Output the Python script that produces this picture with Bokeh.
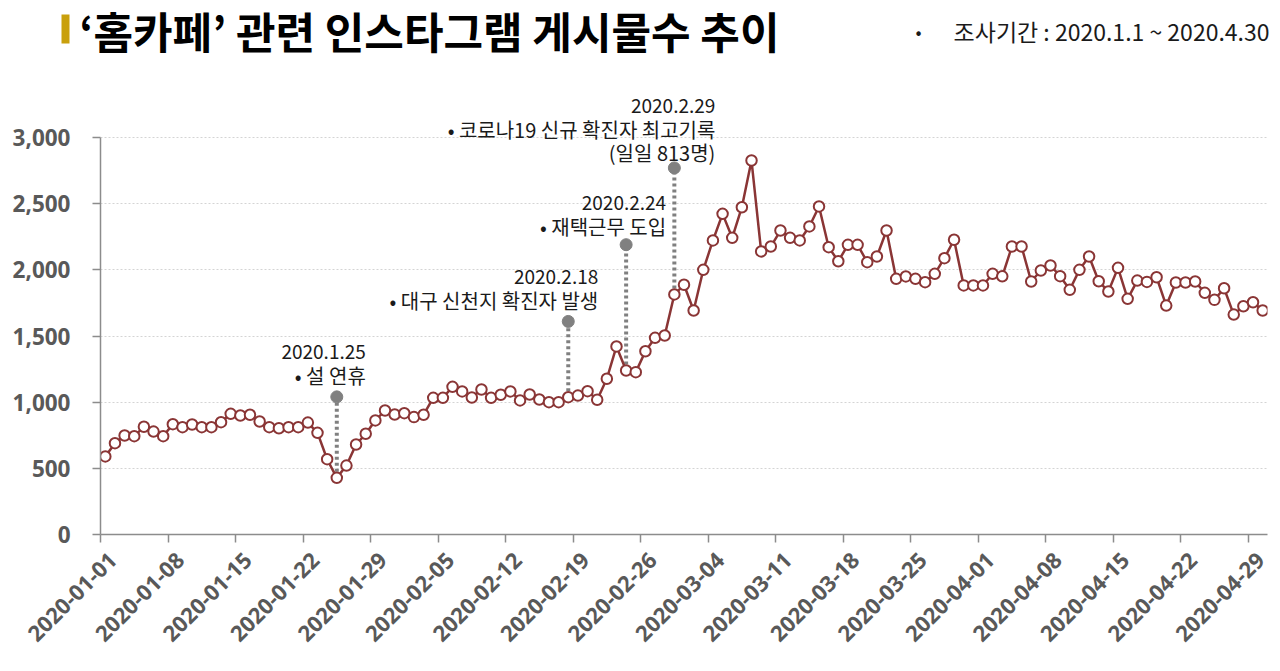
import pandas as pd
from bokeh.plotting import figure
from bokeh.layouts import column
from bokeh.models import (ColumnDataSource, Label, DatetimeTickFormatter,
                          FixedTicker, NumeralTickFormatter, Range1d)
from bokeh.embed import file_html
from bokeh.resources import INLINE

# ---------------- data ----------------
start_date = "2020-01-01"
end_date = "2020-05-01"
posts = [
    # January
    590, 690, 748, 743, 814, 778, 743, 834, 811, 831,
    811, 811, 849, 912, 899, 905, 854, 811, 803, 811,
    811, 846, 768, 569, 428, 521, 680, 761, 862, 937, 907,
    # February
    917, 887, 905, 1033, 1033, 1116, 1081, 1035, 1096, 1033,
    1056, 1081, 1013, 1058, 1020, 1000, 1000, 1038, 1050, 1083,
    1018, 1177, 1421, 1239, 1227, 1385, 1486, 1504, 1814,
    # March
    1887, 1693, 2000, 2222, 2423, 2242, 2473, 2826, 2139, 2176,
    2297, 2242, 2222, 2328, 2479, 2171, 2065, 2189, 2189, 2058,
    2101, 2297, 1932, 1950, 1932, 1907, 1970, 2088, 2227, 1882, 1882,
    # April
    1882, 1970, 1951, 2176, 2176, 1912, 1995, 2033, 1952, 1849,
    2000, 2101, 1914, 1836, 2015, 1781, 1919, 1909, 1944, 1730,
    1904, 1904, 1912, 1826, 1773, 1861, 1662, 1725, 1755, 1693,
]
x_tick_dates = ["2020-01-01", "2020-01-08", "2020-01-15", "2020-01-22", "2020-01-29",
                "2020-02-05", "2020-02-12", "2020-02-19", "2020-02-26", "2020-03-04",
                "2020-03-11", "2020-03-18", "2020-03-25", "2020-04-01", "2020-04-08",
                "2020-04-15", "2020-04-22", "2020-04-29"]
y_ticks = [0, 500, 1000, 1500, 2000, 2500, 3000]

ann_dates = ["2020-01-25", "2020-02-18", "2020-02-24", "2020-02-29"]
ann_marker_values = [1040, 1610, 2190, 2770]
ann_texts = [
    ["2020.1.25", "• 설 연휴"],
    ["2020.2.18", "• 대구 신천지 확진자 발생"],
    ["2020.2.24", "• 재택근무 도입"],
    ["2020.2.29", "• 코로나19 신규 확진자 최고기록", "(일일 813명)"],
]
title_text = "‘홈카페’ 관련 인스타그램 게시물수 추이"
period_text = "조사기간 : 2020.1.1 ~ 2020.4.30"

# ---------------- helpers ----------------
def ms(d):
    return pd.Timestamp(d).value / 1e6

DAY = 24 * 3600 * 1000
half_day = DAY // 2
dates = pd.date_range(start_date, periods=len(posts), freq="D")
src = ColumnDataSource(dict(x=[ms(d) + half_day for d in dates], y=posts))
date_index = {d.strftime("%Y-%m-%d"): i for i, d in enumerate(dates)}
ann_x = [ms(d) + half_day for d in ann_dates]
ann_point_values = [posts[date_index[d]] for d in ann_dates]

TOTAL_W = 1272
HEAD_H = 62
MAIN_H = 601
FRAME_LEFT = 100
FRAME_RIGHT_BORDER = 5
FRAME_BOTTOM_BORDER = 129
PX_PER_3000 = 397  # pixel height of the 0..3000 band

# ---------------- header ----------------
head = figure(width=TOTAL_W, height=HEAD_H, output_backend="svg", toolbar_location=None,
              x_range=Range1d(0, TOTAL_W), y_range=Range1d(0, HEAD_H),
              x_axis_type=None, y_axis_type=None,
              min_border_left=0, min_border_right=0, min_border_top=0, min_border_bottom=0)
if "frame_align" in head.properties():
    head.frame_align = False
head.outline_line_color = None
head.xgrid.grid_line_color = None
head.ygrid.grid_line_color = None
head.quad(left=[61], right=[69], top=[HEAD_H - 14], bottom=[HEAD_H - 43],
          fill_color="#c9a00c", line_color=None)
head.add_layout(Label(x=79, y=HEAD_H - 29, text=title_text,
                      text_align="left", text_baseline="middle",
                      text_font="Noto Sans CJK KR", text_font_style="bold",
                      text_font_size="43px", text_color="#000000"))
head.add_layout(Label(x=918, y=HEAD_H - 30, text="•",
                      text_align="center", text_baseline="middle",
                      text_font="Noto Sans CJK KR", text_font_size="18px", text_color="#1a1a1a"))
head.add_layout(Label(x=1269, y=HEAD_H - 30, text=period_text,
                      text_align="right", text_baseline="middle",
                      text_font="Noto Sans CJK KR", text_font_size="23px", text_color="#1a1a1a"))

# ---------------- main chart ----------------
frame_h = MAIN_H - FRAME_BOTTOM_BORDER
y_top = 3000 * frame_h / PX_PER_3000
p = figure(width=TOTAL_W, height=MAIN_H, output_backend="svg", toolbar_location=None,
           x_range=Range1d(ms(start_date), ms(end_date)), y_range=Range1d(0, y_top),
           min_border_left=FRAME_LEFT, min_border_right=FRAME_RIGHT_BORDER,
           min_border_top=0, min_border_bottom=FRAME_BOTTOM_BORDER)
if "frame_align" in p.properties():
    p.frame_align = False
p.outline_line_color = None

axis_color = "#8c8c8c"
label_color = "#595959"
label_font = "Open Sans"

# x axis: tick marks (as minor ticks) at week starts; labels anchored slightly
# to the right of each tick, as in the reference
label_shift = int(1.3 * DAY)
tick_pos = [ms(d) for d in x_tick_dates]
label_ticks = [t + label_shift for t in tick_pos]
xa = p.xaxis[0]
xa.ticker = FixedTicker(ticks=label_ticks, minor_ticks=tick_pos)
xa.formatter = DatetimeTickFormatter(days="%Y-%m-%d", months="%Y-%m-%d", years="%Y-%m-%d")
xa.major_label_overrides = {t: d for t, d in zip(label_ticks, x_tick_dates)}
xa.major_label_orientation = 0.785398
xa.major_label_standoff = 14
xa.major_tick_line_color = None
xa.major_tick_out = 0
xa.major_tick_in = 0
xa.minor_tick_line_color = axis_color
xa.minor_tick_line_width = 1.5
xa.minor_tick_out = 8
xa.minor_tick_in = 0
xa.axis_line_color = axis_color
xa.axis_line_width = 1.5
xa.major_label_text_color = label_color
xa.major_label_text_font = label_font
xa.major_label_text_font_style = "bold"
xa.major_label_text_font_size = "22px"

ya = p.yaxis[0]
ya.ticker = FixedTicker(ticks=y_ticks)
ya.formatter = NumeralTickFormatter(format="0,0")
ya.bounds = (y_ticks[0], y_ticks[-1])
ya.axis_line_color = axis_color
ya.axis_line_width = 1.5
ya.major_tick_line_color = axis_color
ya.major_tick_line_width = 1.5
ya.major_tick_out = 8
ya.major_tick_in = 0
ya.minor_tick_line_color = None
ya.major_label_text_color = label_color
ya.major_label_text_font = label_font
ya.major_label_text_font_style = "bold"
ya.major_label_text_font_size = "22.5px"
ya.major_label_standoff = 22

p.xgrid.grid_line_color = None
p.ygrid.ticker = FixedTicker(ticks=y_ticks[1:])
p.ygrid.grid_line_color = "#d4d4d4"
p.ygrid.grid_line_dash = "2 2"
p.ygrid.grid_line_width = 1

# annotation dotted stems and markers
p.segment(x0=ann_x, y0=ann_point_values, x1=ann_x, y1=ann_marker_values,
          line_color="#808080", line_width=4, line_dash="3 3")
p.scatter(x=ann_x, y=ann_marker_values, size=12, fill_color="#808080", line_color="#808080")

# series
line_color = "#8a3535"
p.line("x", "y", source=src, line_color=line_color, line_width=2.5)
p.scatter("x", "y", source=src, size=10.5, fill_color="white", line_color=line_color, line_width=2)

# annotation texts
x_offsets = [29, 30, 40, 41]
first_line_up = [45, 44, 42, 62]
line_gap = 23.5
for xv, yv, lines, xo, up in zip(ann_x, ann_marker_values, ann_texts, x_offsets, first_line_up):
    for k, t in enumerate(lines):
        p.add_layout(Label(x=xv, y=yv, x_offset=xo, y_offset=up - k * line_gap, text=t,
                           text_align="right", text_baseline="middle",
                           text_font="Noto Sans CJK KR",
                           text_font_size="19px" if k == 0 else "20px",
                           text_color="#1a1a1a"))

layout = column(head, p, spacing=0)
open("out.html", "w").write(file_html(layout, INLINE))
